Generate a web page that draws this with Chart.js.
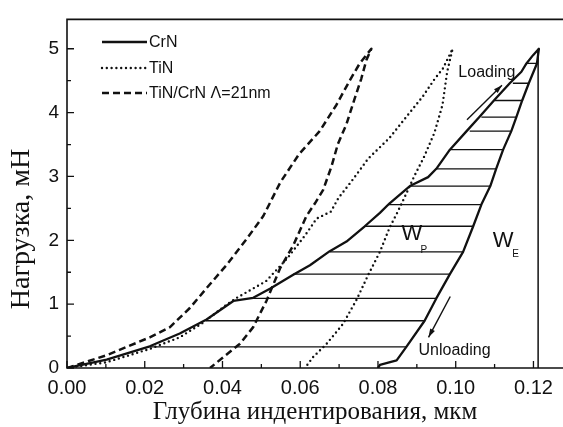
<!DOCTYPE html>
<html>
<head>
<meta charset="utf-8">
<script src="https://cdn.jsdelivr.net/npm/chart.js@4.4.1/dist/chart.umd.min.js"></script>
<style>
  html, body { margin: 0; padding: 0; background: #fff; overflow: hidden; }
  #wrap { width: 563px; height: 427px; position: relative; }
</style>
</head>
<body>
<div id="wrap"><canvas id="chart"></canvas></div>
<script>
const ctx = document.getElementById("chart");

// depth in um, load in mN
const crnLoadDepth = [0, 0.0102, 0.0213, 0.029, 0.0359, 0.0428, 0.0479, 0.0522, 0.0582, 0.0625, 0.0676, 0.0719, 0.0766, 0.0805, 0.083, 0.0882, 0.0929, 0.095, 0.0985, 0.1028, 0.1062, 0.11, 0.1139, 0.1169, 0.1182, 0.1199, 0.1214];
const crnLoadForce = [0, 0.13, 0.34, 0.54, 0.76, 1.05, 1.1, 1.24, 1.46, 1.61, 1.83, 1.98, 2.22, 2.43, 2.58, 2.85, 2.99, 3.12, 3.42, 3.71, 3.94, 4.2, 4.46, 4.64, 4.77, 4.9, 5.0];
const crnUnloadDepth = [0.1214, 0.1209, 0.1188, 0.1171, 0.1156, 0.1143, 0.1122, 0.1104, 0.1089, 0.1066, 0.1045, 0.1019, 0.0985, 0.095, 0.092, 0.0873, 0.0848, 0.0805, 0.08];
const crnUnloadForce = [5.0, 4.77, 4.46, 4.19, 3.93, 3.71, 3.42, 3.12, 2.85, 2.56, 2.22, 1.82, 1.47, 1.09, 0.74, 0.33, 0.12, 0.05, 0];

const tinLoadDepth = [0, 0.0102, 0.0213, 0.029, 0.035, 0.041, 0.0437, 0.0512, 0.0567, 0.0614, 0.0642, 0.0679, 0.0698, 0.0735, 0.0775, 0.0829, 0.0875, 0.0915, 0.0945, 0.0967, 0.0992];
const tinLoadForce = [0, 0.09, 0.3, 0.48, 0.71, 0.99, 1.1, 1.36, 1.72, 2.09, 2.34, 2.45, 2.66, 2.95, 3.28, 3.6, 3.95, 4.25, 4.52, 4.69, 5.0];
const tinUnloadDepth = [0.0992, 0.0978, 0.0966, 0.0945, 0.0918, 0.0893, 0.0872, 0.0851, 0.083, 0.0805, 0.0775, 0.0745, 0.071, 0.0668, 0.0633, 0.0612];
const tinUnloadForce = [5.0, 4.64, 4.12, 3.68, 3.3, 3.0, 2.72, 2.45, 2.2, 1.82, 1.46, 1.07, 0.69, 0.38, 0.17, 0];

const mlLoadDepth = [0, 0.0102, 0.0213, 0.0265, 0.0316, 0.0359, 0.041, 0.0462, 0.0505, 0.0549, 0.0597, 0.065, 0.0693, 0.0728, 0.0753, 0.0783];
const mlLoadForce = [0, 0.2, 0.48, 0.64, 0.94, 1.25, 1.61, 2.02, 2.38, 2.91, 3.35, 3.71, 4.12, 4.51, 4.77, 5.0];
const mlUnloadDepth = [0.0783, 0.077, 0.0757, 0.074, 0.0719, 0.0697, 0.068, 0.0659, 0.0638, 0.0616, 0.0582, 0.0548, 0.0513, 0.0479, 0.0445, 0.0402, 0.0368];
const mlUnloadForce = [5.0, 4.82, 4.53, 4.22, 3.82, 3.51, 3.15, 2.79, 2.58, 2.38, 1.92, 1.56, 1.05, 0.64, 0.38, 0.17, 0];

// hatching of the W_P area and the W_E boundary
const hatchForce = [0.33, 0.74, 1.09, 1.47, 1.82, 2.22, 2.56, 2.85, 3.12, 3.42, 3.71, 3.93, 4.19, 4.46, 4.77];
const hatchLeft = [0.0213, 0.0359, 0.0479, 0.0582, 0.0676, 0.0766, 0.0826, 0.0882, 0.095, 0.0985, 0.1036, 0.1066, 0.11, 0.1147, 0.1182];
const hatchRight = [0.0873, 0.092, 0.095, 0.0985, 0.1019, 0.1045, 0.1066, 0.1089, 0.1104, 0.1122, 0.1143, 0.1156, 0.1171, 0.1188, 0.1209];
const maxDepth = 0.1212;
const maxForce = 5.0;

const legendNames = ["CrN", "TiN", "TiN/CrN \u039B=21nm"];

const xTickValues = [0, 0.02, 0.04, 0.06, 0.08, 0.1, 0.12];
const xTickLabels = ["0.00", "0.02", "0.04", "0.06", "0.08", "0.10", "0.12"];
const xMinorTicks = [0.01, 0.03, 0.05, 0.07, 0.09, 0.11];
const yTickValues = [0, 1, 2, 3, 4, 5];
const yTickLabels = ["0", "1", "2", "3", "4", "5"];
const yMinorTicks = [0.5, 1.5, 2.5, 3.5, 4.5];

// text labels: [text, depth, load]
const notes = [["Loading", 0.108, 4.62], ["Unloading", 0.0997, 0.28]];
const workLabels = [["W", 0.0887, 2.1, "P", 0.0918, 1.84], ["W", 0.1122, 1.99, "E", 0.1154, 1.78]];
const arrows = [[0.1029, 3.89, 0.1119, 4.43], [0.0986, 1.12, 0.093, 0.48]];

const ink = "#111";

function pts(xs, ys) {
  return xs.map((x, i) => ({ x: x, y: ys[i] }));
}

function curve(a, b, c, d) {
  return pts(a, b).concat(pts(c, d).slice(1));
}

let hatch = [];
hatchForce.forEach((f, i) => {
  hatch.push({ x: hatchLeft[i], y: f });
  hatch.push({ x: hatchRight[i], y: f });
  hatch.push({ x: hatchRight[i], y: null });
});

const framePlugin = {
  id: "frame",
  afterDraw(chart) {
    const c = chart.ctx;
    const a = chart.chartArea;
    const xs = chart.scales.x;
    const ys = chart.scales.y;
    c.save();
    c.strokeStyle = ink;
    c.lineWidth = 1.6;
    c.beginPath();
    c.moveTo(a.right + 5, a.top);
    c.lineTo(a.left, a.top);
    c.lineTo(a.left, a.bottom);
    c.lineTo(a.right + 5, a.bottom);
    c.stroke();

    c.lineWidth = 1.3;
    c.beginPath();
    xTickValues.forEach((v) => {
      const px = xs.getPixelForValue(v);
      c.moveTo(px, a.bottom);
      c.lineTo(px, a.bottom - 7);
    });
    xMinorTicks.forEach((v) => {
      const px = xs.getPixelForValue(v);
      c.moveTo(px, a.bottom);
      c.lineTo(px, a.bottom - 4);
    });
    yTickValues.forEach((v) => {
      const py = ys.getPixelForValue(v);
      c.moveTo(a.left, py);
      c.lineTo(a.left + 7, py);
    });
    yMinorTicks.forEach((v) => {
      const py = ys.getPixelForValue(v);
      c.moveTo(a.left, py);
      c.lineTo(a.left + 4, py);
    });
    c.stroke();

    // y title
    c.fillStyle = ink;
    c.font = "28px 'Liberation Serif'";
    c.textAlign = "center";
    c.textBaseline = "middle";
    c.translate(22, 229);
    c.rotate(-Math.PI / 2);
    c.fillText("Нагрузка, мН", 0, 0);
    c.restore();

    // legend
    c.save();
    const rows = [42, 68, 93];
    [0, 3, 4].forEach((di, i) => {
      const ds = chart.data.datasets[di];
      c.strokeStyle = ink;
      c.lineWidth = ds.borderWidth;
      c.lineCap = ds.borderCapStyle || "butt";
      c.setLineDash(ds.borderDash || []);
      c.beginPath();
      c.moveTo(102, rows[i]);
      c.lineTo(147, rows[i]);
      c.stroke();
      c.setLineDash([]);
      c.fillStyle = ink;
      c.font = "16px 'Liberation Sans'";
      c.textAlign = "left";
      c.textBaseline = "middle";
      c.fillText(legendNames[i], 149, rows[i] + 1);
    });

    // notes and arrows
    c.textAlign = "center";
    notes.forEach((n) => {
      c.font = "16px 'Liberation Sans'";
      c.fillText(n[0], xs.getPixelForValue(n[1]), ys.getPixelForValue(n[2]));
    });
    workLabels.forEach((w) => {
      c.font = "22px 'Liberation Sans'";
      c.fillText(w[0], xs.getPixelForValue(w[1]), ys.getPixelForValue(w[2]));
      c.font = "10px 'Liberation Sans'";
      c.fillText(w[3], xs.getPixelForValue(w[4]), ys.getPixelForValue(w[5]));
    });
    c.lineWidth = 1.4;
    arrows.forEach((ar) => {
      const x0 = xs.getPixelForValue(ar[0]);
      const y0 = ys.getPixelForValue(ar[1]);
      const x1 = xs.getPixelForValue(ar[2]);
      const y1 = ys.getPixelForValue(ar[3]);
      const ang = Math.atan2(y1 - y0, x1 - x0);
      c.beginPath();
      c.moveTo(x0, y0);
      c.lineTo(x1, y1);
      c.stroke();
      c.beginPath();
      c.moveTo(x1, y1);
      c.lineTo(x1 - 9 * Math.cos(ang - 0.3), y1 - 9 * Math.sin(ang - 0.3));
      c.lineTo(x1 - 9 * Math.cos(ang + 0.3), y1 - 9 * Math.sin(ang + 0.3));
      c.closePath();
      c.fill();
    });
    c.restore();
  },
};

new Chart(ctx, {
  type: "scatter",
  data: {
    datasets: [
      {
        data: curve(crnLoadDepth, crnLoadForce, crnUnloadDepth, crnUnloadForce),
        borderColor: ink,
        borderWidth: 2.3,
      },
      {
        data: hatch,
        borderColor: ink,
        borderWidth: 1.3,
        spanGaps: false,
      },
      {
        data: [{ x: maxDepth, y: 0 }, { x: maxDepth, y: maxForce }],
        borderColor: ink,
        borderWidth: 1.5,
      },
      {
        data: curve(tinLoadDepth, tinLoadForce, tinUnloadDepth, tinUnloadForce),
        borderColor: ink,
        borderWidth: 2.4,
        borderDash: [0, 4.8],
        borderCapStyle: "round",
      },
      {
        data: curve(mlLoadDepth, mlLoadForce, mlUnloadDepth, mlUnloadForce),
        borderColor: ink,
        borderWidth: 2.5,
        borderDash: [7, 4],
      },
    ],
  },
  options: {
    responsive: true,
    maintainAspectRatio: false,
    animation: false,
    devicePixelRatio: 1,
    showLine: true,
    elements: {
      point: { radius: 0, hoverRadius: 0 },
      line: { tension: 0, borderJoinStyle: "round" },
    },
    layout: { padding: { top: 13, right: 0, left: 0, bottom: 0 } },
    scales: {
      x: {
        type: "linear",
        min: 0,
        max: 0.1276,
        afterFit: (s) => { s.height = 59; },
        afterBuildTicks: (s) => { s.ticks = xTickValues.map((v) => ({ value: v })); },
        grid: { display: false, drawTicks: false },
        border: { display: false },
        ticks: {
          autoSkip: false,
          maxRotation: 0,
          padding: 8,
          color: ink,
          font: { family: "Liberation Sans", size: 20 },
          callback: (v, i) => xTickLabels[i],
        },
        title: {
          display: true,
          text: "Глубина индентирования, мкм",
          color: ink,
          font: { family: "Liberation Serif", size: 25 },
          padding: { top: 0, bottom: 0 },
        },
      },
      y: {
        type: "linear",
        min: 0,
        max: 5.46,
        afterFit: (s) => { s.width = 67; },
        afterBuildTicks: (s) => { s.ticks = yTickValues.map((v) => ({ value: v })); },
        grid: { display: false, drawTicks: false },
        border: { display: false },
        ticks: {
          padding: 8,
          color: ink,
          font: { family: "Liberation Sans", size: 19 },
          callback: (v, i) => yTickLabels[i],
        },
      },
    },
    plugins: {
      legend: { display: false },
      tooltip: { enabled: false },
    },
  },
  plugins: [framePlugin],
});
</script>
</body>
</html>
